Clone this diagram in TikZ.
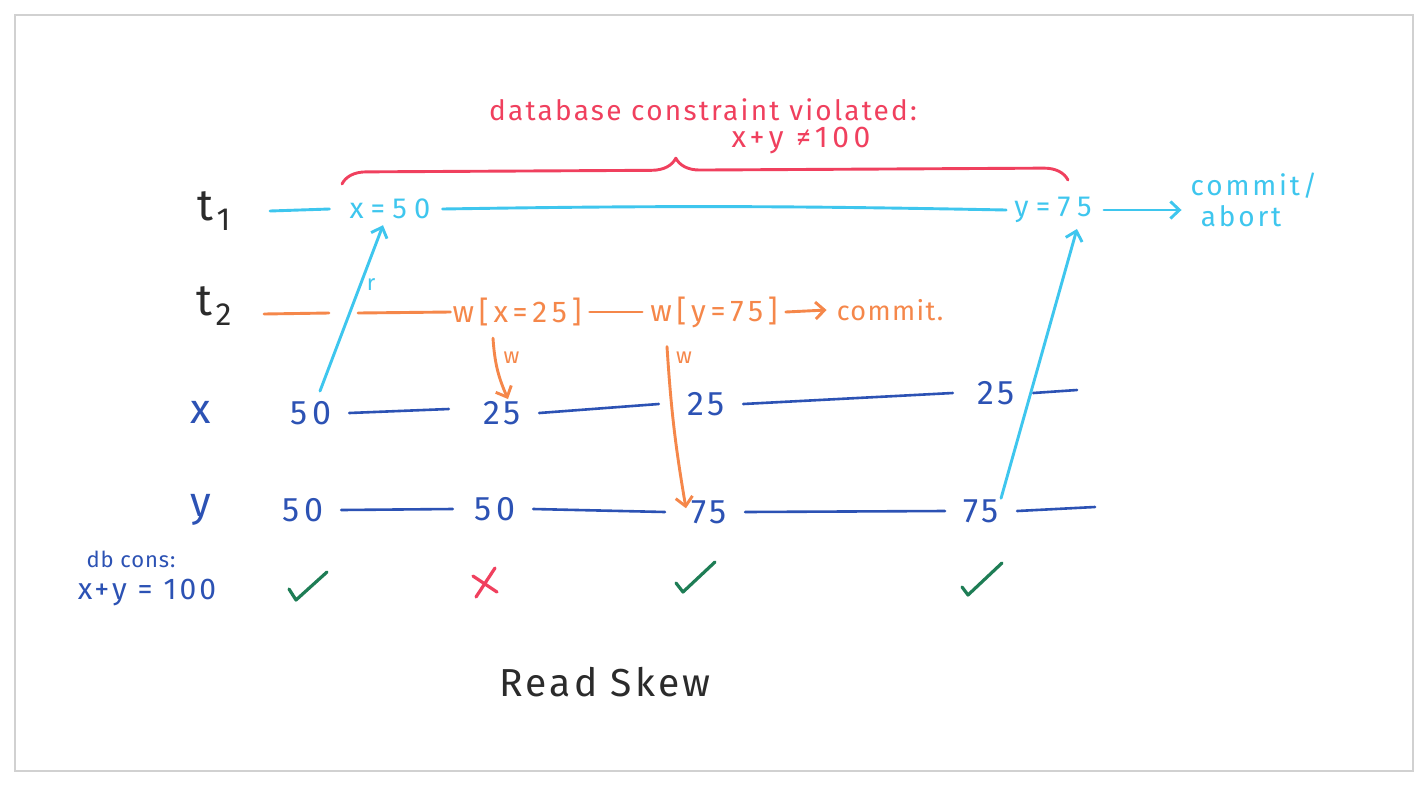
\documentclass[tikz,border=0pt]{standalone}
\usepackage{fontspec}
\setmainfont{Fira Sans}
\usetikzlibrary{arrows.meta,decorations.pathreplacing}
\definecolor{cred}{HTML}{F0405E}
\definecolor{ccyan}{HTML}{3EC6EE}
\definecolor{corange}{HTML}{F5874A}
\definecolor{cblue}{HTML}{2C52B4}
\definecolor{cgreen}{HTML}{1E7D55}
\definecolor{cink}{HTML}{2B2B2B}
\newcommand\hfs[3]{\fontsize{#1}{#2}\selectfont\addfontfeature{LetterSpace=#3}}
\tikzset{
  pen/.style={line width=2.9pt, line cap=round, line join=round},
  tip/.style={-{Straight Barb[length=9pt,width=17pt,line width=2.9pt]}},
  redtxt/.style={text=cred, inner sep=1pt},
  cytxt/.style={text=ccyan, inner xsep=12pt, inner ysep=6pt, font=\hfs{29}{32}{25}},
  ortxt/.style={text=corange, inner xsep=8pt, inner ysep=4pt, font=\hfs{30}{32}{16}},
  valtxt/.style={text=cblue, inner xsep=18pt, inner ysep=4pt, font=\hfs{34}{36}{12}},
  rowlbl/.style={text=cink, inner sep=1pt, font=\fontsize{44}{46}\selectfont},
  varlbl/.style={text=cblue, inner sep=1pt, font=\fontsize{42}{44}\selectfont},
  small/.style={inner sep=0pt, font=\fontsize{22}{22}\selectfont},
  cyline/.style={pen, draw=ccyan},
  orline/.style={pen, draw=corange},
  blline/.style={pen, line width=2.6pt, draw=cblue},
}
\begin{document}
\begin{tikzpicture}[x=1pt,y=-1pt]
\useasboundingbox (0,0) rectangle (1422,788);
\fill[white] (0,0) rectangle (1422,788);
\draw[black!18, line width=1.2pt] (15,15) rectangle (1413,771);

% constraint violated annotation
\node[redtxt, font=\hfs{28}{32}{8}] (viol) at (703,110) {database constraint violated:};
\node[redtxt, font=\hfs{30}{32}{15}] (neq) at (801,141) {x+y ≠100};
\coordinate (brl) at (342,184);
\coordinate (brr) at (1068,180);
\draw[pen, draw=cred, decorate, decoration={brace, amplitude=24pt, aspect=0.46}] (brl) -- (brr);

% row labels
\node[rowlbl] (t1) at (214,211) {t\kern3pt\raisebox{-10pt}{\fontsize{32}{32}\selectfont 1}};
\node[rowlbl] (t2) at (214,306) {t\kern3pt\raisebox{-10pt}{\fontsize{32}{32}\selectfont 2}};
\node[varlbl] (xl) at (201,412) {x};
\node[varlbl] (yl) at (201,510) {y};

% t1 row
\coordinate (t1s) at (270,211);
\node[cytxt] (t1x) at (390,209) {x=50};
\node[cytxt] (t1y) at (1053,210) {y=75};
\node[cytxt, align=left, inner sep=1pt, font=\hfs{28}{31}{10}] (t1c) at (1254,200) {commit/\\\ abort};
\draw[cyline] (t1s) -- ([xshift=-8pt]t1x.west);
\draw[cyline] (t1x.east) to[bend left=1] ([xshift=4pt]t1y.west);
\draw[cyline, tip] (t1y.east) -- ([xshift=-8pt]t1y.east -| t1c.west);

% t2 row
\coordinate (t2s) at (264,314);
\coordinate (t2g1) at (329,313);
\coordinate (t2g2) at (358,313);
\node[ortxt] (w1) at (517,312) {w[x=25]};
\node[ortxt] (w2) at (714,312) {w[y=75]};
\node[ortxt, font=\hfs{27}{30}{5}] (c2) at (890,310) {commit.};
\draw[orline] (t2s) -- (t2g1);
\draw[orline] (t2g2) -- ([xshift=6pt]w1.west);
\draw[orline] (w1.east) -- (w2.west);
\draw[orline, tip] (w2.east) -- ([xshift=-2pt]c2.west);

% x row
\node[valtxt] (xa) at (311,413) {50};
\node[valtxt] (xb) at (502,413) {25};
\node[valtxt] (xc) at (706,404) {25};
\node[valtxt] (xd) at (996,393) {25};
\coordinate (xe) at (1077,390);
\draw[blline] (xa.east) -- ([xshift=-16pt,yshift=4pt]xb.west);
\draw[blline] (xb.east) -- ([xshift=-10pt]xc.west);
\draw[blline] (xc.east) -- ([xshift=-6pt]xd.west);
\draw[blline] (xd.east) -- (xe);

% y row
\node[valtxt] (ya) at (303,510) {50};
\node[valtxt] (yb) at (495,509) {50};
\node[valtxt] (yc) at (709,512) {75};
\node[valtxt] (yd) at (981,511) {75};
\coordinate (ye) at (1095,507);
\draw[blline] (ya.east) -- ([xshift=-4pt]yb.west);
\draw[blline] (yb.east) -- ([xshift=-8pt]yc.west);
\draw[blline] (yc.east) -- (yd.west);
\draw[blline] (yd.east) -- (ye);

% read and write arrows
\draw[cyline, tip] ([xshift=9pt,yshift=6pt]xa.north) -- node[pos=0.64, right=5pt, text=ccyan, small]{r} ([xshift=-7pt,yshift=0pt]t1x.south);
\draw[orline, tip] ([xshift=-24pt,yshift=-8pt]w1.south) to[bend right=10] node[pos=0.3, right=7pt, text=corange, small]{w} ([xshift=6pt,yshift=-2pt]xb.north);
\draw[orline, tip] ([xshift=-47pt,yshift=-15pt]w2.south) to[bend right=3] node[pos=0.06, right=7pt, text=corange, small]{w} ([xshift=13pt,yshift=-12pt]yc.north west);
\draw[cyline, tip] ([xshift=-16pt,yshift=-3pt]yd.north east) -- ([xshift=-27pt,yshift=0pt]t1y.south east);

% consistency checks
\node[text=cblue, inner sep=1pt, font=\hfs{22}{24}{4}] (dbc) at (131,559) {db cons:};
\node[text=cblue, inner sep=1pt, font=\hfs{30}{32}{10}] (dbe) at (147,592) {x+y = 100};
\draw[pen, line width=3.2pt, draw=cgreen] (289,589) -- (296,600) -- (327,572);
\draw[pen, line width=3.2pt, draw=cred] (473,576) -- (497,592);
\draw[pen, line width=3.2pt, draw=cred] (476,597) -- (495,568);
\draw[pen, line width=3.2pt, draw=cgreen] (676,583) -- (683,592) -- (715,562);
\draw[pen, line width=3.2pt, draw=cgreen] (962,587) -- (968,595) -- (1002,563);

\node[text=cink, inner sep=1pt, font=\hfs{39}{42}{8}] (title) at (605,682) {Read Skew};
\end{tikzpicture}
\end{document}
